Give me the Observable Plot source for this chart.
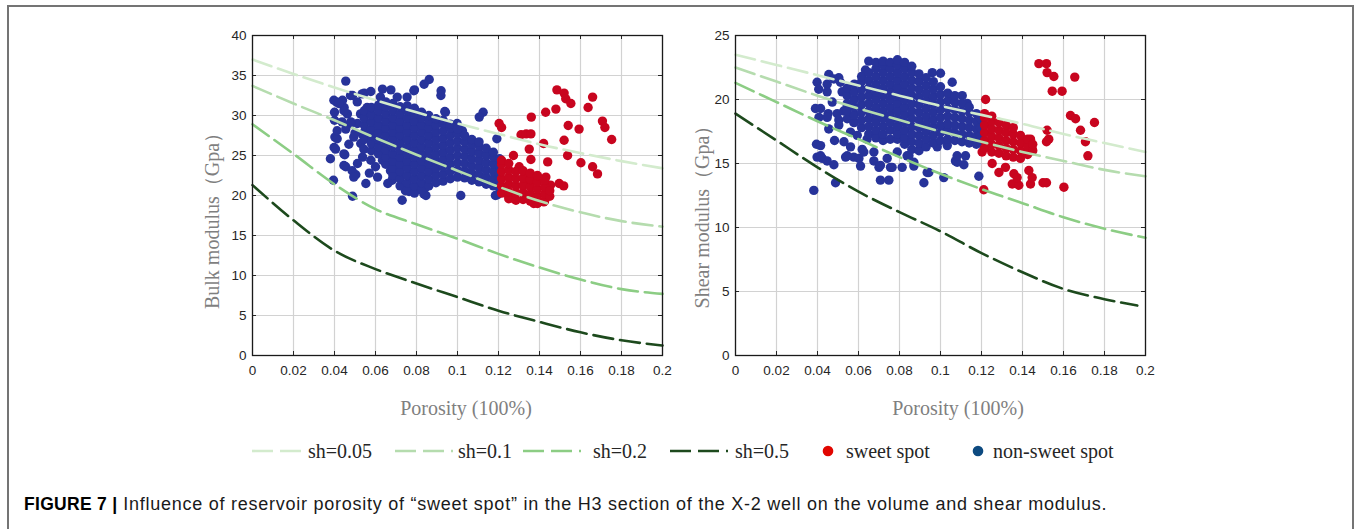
<!DOCTYPE html>
<html><head><meta charset="utf-8">
<script src="https://cdn.jsdelivr.net/npm/d3@7"></script>
<script src="https://cdn.jsdelivr.net/npm/@observablehq/plot@0.6"></script>
<style>
html,body{margin:0;padding:0;background:#fff;width:1356px;height:529px;overflow:hidden;position:relative;}
#frame{position:absolute;left:7px;top:5px;width:1347px;height:600px;border:2px solid #747474;border-bottom:none;box-sizing:border-box;}
.panel{position:absolute;top:20px;}
.ytitle,.xtitle{position:absolute;font-family:"Liberation Serif","Times New Roman",serif;font-size:20px;color:#7f7f7f;white-space:nowrap;line-height:1;}
.ytitle{transform:translate(-50%,-50%) rotate(-90deg);}
.xtitle{transform:translate(-50%,-50%);}
#legend{position:absolute;left:0;top:430px;}
#cap{position:absolute;left:24px;top:495px;font-family:"Liberation Sans",Arial,sans-serif;font-size:18px;letter-spacing:0.75px;color:#1a1a1a;white-space:nowrap;line-height:18px;}
#cap b{color:#000;font-size:17.5px;letter-spacing:0.3px;}
</style></head>
<body>
<div id="frame"></div>
<div id="left" class="panel" style="left:190px"></div>
<div id="right" class="panel" style="left:680px"></div>
<div class="ytitle" style="left:212px;top:216px">Bulk modulus（Gpa）</div>
<div class="ytitle" style="left:702px;top:212px">Shear modulus（Gpa）</div>
<div class="xtitle" style="left:466px;top:408px">Porosity (100%)</div>
<div class="xtitle" style="left:958px;top:408px">Porosity (100%)</div>
<svg id="legend" width="1356" height="40"></svg>
<div id="cap"><b>FIGURE 7 |</b> Influence of reservoir porosity of “sweet spot” in the H3 section of the X-2 well on the volume and shear modulus.</div>
<script>
// ---------- data ----------
const xTicks = [0, 0.02, 0.04, 0.06, 0.08, 0.1, 0.12, 0.14, 0.16, 0.18, 0.2];
const leftYTicks = [0, 5, 10, 15, 20, 25, 30, 35, 40];
const rightYTicks = [0, 5, 10, 15, 20, 25];
const seriesNames = ["sh=0.05", "sh=0.1", "sh=0.2", "sh=0.5"];
const legendLabels = ["sh=0.05", "sh=0.1", "sh=0.2", "sh=0.5", "sweet spot", "non-sweet spot"];

const curveX = [0, 0.02, 0.04, 0.06, 0.08, 0.10, 0.12, 0.14, 0.16, 0.18, 0.20];
const curveXShort = [0, 0.02, 0.04, 0.06, 0.08, 0.10, 0.12, 0.14, 0.16, 0.18, 0.196];

// Bulk modulus curves
const leftSh005 = [37.0, 35.2, 33.5, 31.9, 30.4, 29.0, 27.7, 26.4, 25.3, 24.3, 23.4];
const leftSh01  = [33.7, 31.5, 29.4, 27.2, 25.1, 23.1, 21.1, 19.3, 17.9, 16.8, 16.1];
const leftSh02  = [28.9, 25.2, 21.4, 18.3, 16.4, 14.6, 12.7, 11.0, 9.5, 8.3, 7.7];
const leftSh05  = [21.3, 16.9, 13.1, 10.8, 9.0, 7.3, 5.6, 4.2, 2.9, 1.9, 1.25];
// Shear modulus curves
const rightSh005 = [23.5, 22.7, 21.9, 21.1, 20.3, 19.5, 18.8, 18.1, 17.3, 16.6, 15.9];
const rightSh01  = [22.5, 21.4, 20.3, 19.3, 18.4, 17.5, 16.7, 15.9, 15.2, 14.5, 14.0];
const rightSh02  = [21.3, 19.8, 18.3, 16.9, 15.5, 14.2, 13.0, 11.9, 10.8, 9.9, 9.2];
const rightSh05  = [18.9, 16.8, 14.7, 12.8, 11.2, 9.7, 8.0, 6.5, 5.2, 4.4, 3.9];

// Bulk modulus points: non-sweet spot (porosity, modulus)
const leftBlue = [
[0.0455,34.3],[0.038,24.6],[0.0395,21.9],[0.0488,19.9],[0.0455,23.6],[0.0504,22.6],[0.0553,21.5],[0.045,25.1],[0.0398,26.0],[0.0402,27.3],[0.040,29.4],[0.041,31.7],[0.040,30.4],[0.0634,33.3],[0.0675,33.2],[0.0577,33.0],[0.0545,32.8],[0.0488,32.5],[0.0862,34.5],[0.0837,33.9],[0.079,33.2],[0.092,33.1],[0.0919,32.5],[0.0938,30.5],[0.1125,30.4],[0.1106,29.8],[0.100,28.6],[0.1024,28.1],[0.1016,20.0],[0.1195,20.1],[0.1192,27.1],[0.073,19.4],[0.0846,20.0],[0.0764,20.5],[0.082,21.0],[0.0683,22.0],[0.0634,24.4],[0.0577,24.4],[0.0537,24.8],[0.0512,24.0],[0.0528,26.5],[0.0537,27.6],[0.0512,29.0],[0.0463,30.2],[0.0447,31.0],[0.0439,31.9],[0.048,29.2],[0.066,21.5],[0.0707,22.9],[0.061,22.3],[0.0642,25.2],
[0.0397,31.9],[0.0421,31.5],[0.0478,32.5],[0.0535,32.7],[0.0624,32.3],[0.0706,32.3],[0.0754,32.3],[0.0787,33.1],[0.0941,30.4],[0.0998,29.0],[0.0982,28.3],[0.0446,25.2],[0.0446,23.75],[0.0486,23.1],[0.0494,22.3],[0.0673,23.1],[0.0681,21.9],[0.0746,20.6],[0.0836,20.2],[0.0844,21.0],[0.1185,20.0],
[0.0543,25.8],[0.0494,27.3],[0.0413,27.1],[0.0413,28.1],[0.0405,25.8],[0.0437,29.2],[0.0478,29.0],[0.0527,30.2],[0.0559,31.0],[0.0446,30.6],[0.0511,31.7],[0.0455,28.3],[0.050,27.8],[0.047,26.4],[0.057,22.8],[0.060,23.6],
[0.0545,27.0],[0.0545,27.9],[0.0545,28.8],[0.0545,29.7],[0.0545,30.6],
[0.058,25.6],[0.058,26.5],[0.058,27.4],[0.058,28.3],[0.058,29.2],[0.058,30.1],[0.058,31.0],
[0.0615,25.2],[0.0615,26.1],[0.0615,27.0],[0.0615,27.9],[0.0615,28.8],[0.0615,29.7],[0.0615,30.6],[0.0615,31.3],
[0.065,23.9],[0.065,24.8],[0.065,25.7],[0.065,26.6],[0.065,27.5],[0.065,28.4],[0.065,29.3],[0.065,30.2],[0.065,31.1],[0.065,31.7],
[0.0685,22.5],[0.0685,23.4],[0.0685,24.3],[0.0685,25.2],[0.0685,26.1],[0.0685,27.0],[0.0685,27.9],[0.0685,28.8],[0.0685,29.7],[0.0685,30.6],[0.0685,31.5],
[0.072,21.2],[0.072,22.1],[0.072,23.0],[0.072,23.9],[0.072,24.8],[0.072,25.7],[0.072,26.6],[0.072,27.5],[0.072,28.4],[0.072,29.3],[0.072,30.2],[0.072,31.1],
[0.0755,20.7],[0.0755,21.6],[0.0755,22.5],[0.0755,23.4],[0.0755,24.3],[0.0755,25.2],[0.0755,26.1],[0.0755,27.0],[0.0755,27.9],[0.0755,28.8],[0.0755,29.7],[0.0755,30.6],[0.0755,31.2],
[0.079,20.3],[0.079,21.2],[0.079,22.1],[0.079,23.0],[0.079,23.9],[0.079,24.8],[0.079,25.7],[0.079,26.6],[0.079,27.5],[0.079,28.4],[0.079,29.3],[0.079,30.2],[0.079,30.9],
[0.0825,20.7],[0.0825,21.6],[0.0825,22.5],[0.0825,23.4],[0.0825,24.3],[0.0825,25.2],[0.0825,26.1],[0.0825,27.0],[0.0825,27.9],[0.0825,28.8],[0.0825,29.7],[0.0825,30.4],
[0.086,21.2],[0.086,22.1],[0.086,23.0],[0.086,23.9],[0.086,24.8],[0.086,25.7],[0.086,26.6],[0.086,27.5],[0.086,28.4],[0.086,29.3],[0.086,30.0],
[0.0895,21.6],[0.0895,22.5],[0.0895,23.4],[0.0895,24.3],[0.0895,25.2],[0.0895,26.1],[0.0895,27.0],[0.0895,27.9],[0.0895,28.8],[0.0895,29.6],
[0.093,21.8],[0.093,22.7],[0.093,23.6],[0.093,24.5],[0.093,25.4],[0.093,26.3],[0.093,27.2],[0.093,28.1],[0.093,29.0],[0.093,29.4],
[0.0965,22.1],[0.0965,23.0],[0.0965,23.9],[0.0965,24.8],[0.0965,25.7],[0.0965,26.6],[0.0965,27.5],[0.0965,28.4],[0.0965,28.9],
[0.100,22.3],[0.100,23.2],[0.100,24.1],[0.100,25.0],[0.100,25.9],[0.100,26.8],[0.100,27.7],[0.100,28.3],
[0.1035,22.2],[0.1035,23.1],[0.1035,24.0],[0.1035,24.9],[0.1035,25.8],[0.1035,26.7],[0.1035,27.5],
[0.107,21.9],[0.107,22.8],[0.107,23.7],[0.107,24.6],[0.107,25.5],[0.107,26.4],[0.107,27.0],
[0.1105,21.7],[0.1105,22.6],[0.1105,23.5],[0.1105,24.4],[0.1105,25.3],[0.1105,26.2],[0.1105,26.7],
[0.114,21.4],[0.114,22.3],[0.114,23.2],[0.114,24.1],[0.114,25.0],[0.114,25.9],
[0.1175,21.2],[0.1175,22.1],[0.1175,23.0],[0.1175,23.9],[0.1175,24.8],[0.1175,25.4],
[0.1205,21.0],[0.1205,21.9],[0.1205,22.8],[0.1205,23.7],[0.1205,24.6]
];
// Bulk modulus points: sweet spot
const leftRed = [
[0.1203,29.0],[0.1215,28.5],[0.131,27.6],[0.1335,27.7],[0.1358,27.7],[0.136,29.8],[0.143,30.4],[0.135,25.8],[0.142,26.5],[0.1485,33.2],[0.152,32.8],[0.1528,32.1],[0.1553,31.5],[0.148,30.8],[0.154,28.75],[0.1593,28.3],[0.1659,32.3],[0.1637,31.0],[0.1707,29.3],[0.1719,28.5],[0.1752,27.0],[0.152,26.9],[0.1537,25.0],[0.1602,24.1],[0.1659,23.6],[0.1683,22.7],[0.1496,21.5],[0.1518,21.2],[0.144,24.2],[0.1273,25.0],[0.1301,23.6],[0.1358,24.5],[0.1431,22.3],[0.1325,22.1],[0.1421,19.2],[0.1372,19.0],[0.1275,19.6],[0.1242,20.2],[0.1454,21.3],[0.1356,21.5],
[0.1215,20.3],[0.1215,21.2],[0.1215,22.1],[0.1215,23.0],[0.1215,23.9],[0.1215,24.4],
[0.125,19.6],[0.125,20.5],[0.125,21.4],[0.125,22.3],[0.125,23.2],[0.125,24.0],
[0.1285,19.4],[0.1285,20.3],[0.1285,21.2],[0.1285,22.1],[0.1285,23.0],
[0.132,19.5],[0.132,20.4],[0.132,21.3],[0.132,22.2],[0.132,23.1],
[0.1355,19.3],[0.1355,20.2],[0.1355,21.1],[0.1355,22.0],[0.1355,22.8],
[0.139,19.0],[0.139,19.9],[0.139,20.8],[0.139,21.7],[0.139,22.5],
[0.1425,19.3],[0.1425,20.2],[0.1425,21.1],[0.1425,21.9],
[0.145,19.9],[0.145,20.6]
];
// Shear modulus points: non-sweet spot
const rightBlue = [
[0.0382,12.9],[0.039,19.3],[0.0398,21.35],[0.0407,18.6],[0.0395,16.5],[0.0415,16.4],[0.0398,15.5],[0.0423,15.4],[0.0447,15.2],[0.048,14.9],[0.0483,16.8],[0.0488,13.5],[0.0455,21.95],[0.0447,21.2],[0.0504,21.7],[0.0452,18.9],[0.0455,17.7],[0.0504,18.4],[0.0528,19.1],[0.0537,15.5],[0.0561,16.3],[0.0577,15.5],[0.0618,16.1],[0.061,14.8],[0.0634,22.3],[0.065,23.0],[0.0675,15.2],[0.070,14.7],[0.0707,13.7],[0.0748,13.7],[0.074,15.4],[0.0764,14.7],[0.0813,14.7],[0.0789,15.9],[0.0846,15.6],[0.087,14.8],[0.0919,13.5],[0.0943,14.3],[0.1016,13.9],[0.096,22.1],[0.100,22.05],[0.1057,21.35],[0.1049,20.2],[0.1106,20.3],[0.113,19.7],[0.1073,15.2],[0.1114,14.9],[0.1122,15.6],[0.1187,14.0],[0.1033,17.7],[0.0984,16.3],[0.0902,16.3],
[0.0406,20.8],[0.0447,20.6],[0.048,21.6],[0.0512,21.35],[0.052,20.6],[0.0472,19.8],[0.0415,19.3],[0.0447,18.6],[0.0496,18.9],[0.0545,19.5],[0.0504,18.0],[0.0561,17.45],[0.0529,16.7],[0.0415,15.6],[0.0545,15.6],[0.0602,15.4],[0.0626,15.9],[0.0675,15.9],[0.0707,14.85],[0.0756,14.7],[0.0837,15.6],[0.087,15.1],[0.0935,14.3],[0.1081,15.1],[0.1081,15.6],[0.1033,16.4],[0.0594,17.2],[0.0642,16.9],[0.0691,17.2],[0.0577,18.2],
[0.0545,18.5],[0.0545,19.1],[0.0545,19.7],[0.0545,20.3],[0.0545,20.9],
[0.058,18.2],[0.058,18.8],[0.058,19.4],[0.058,20.0],[0.058,20.6],[0.058,21.2],
[0.0615,17.8],[0.0615,18.4],[0.0615,19.0],[0.0615,19.6],[0.0615,20.2],[0.0615,20.8],[0.0615,21.4],[0.0615,21.8],
[0.065,17.3],[0.065,17.9],[0.065,18.5],[0.065,19.1],[0.065,19.7],[0.065,20.3],[0.065,20.9],[0.065,21.5],[0.065,22.1],
[0.0685,17.0],[0.0685,17.6],[0.0685,18.2],[0.0685,18.8],[0.0685,19.4],[0.0685,20.0],[0.0685,20.6],[0.0685,21.2],[0.0685,21.8],[0.0685,22.4],[0.0685,22.9],
[0.072,16.8],[0.072,17.3],[0.072,17.9],[0.072,18.5],[0.072,19.1],[0.072,19.7],[0.072,20.3],[0.072,20.9],[0.072,21.5],[0.072,22.1],[0.072,22.7],[0.072,23.0],
[0.0755,16.9],[0.0755,17.6],[0.0755,18.2],[0.0755,18.8],[0.0755,19.4],[0.0755,20.0],[0.0755,20.6],[0.0755,21.2],[0.0755,21.8],[0.0755,22.4],[0.0755,22.9],
[0.079,16.9],[0.079,17.3],[0.079,17.9],[0.079,18.5],[0.079,19.1],[0.079,19.7],[0.079,20.3],[0.079,20.9],[0.079,21.5],[0.079,22.1],[0.079,22.7],[0.079,23.1],
[0.0825,16.5],[0.0825,17.0],[0.0825,17.6],[0.0825,18.2],[0.0825,18.8],[0.0825,19.4],[0.0825,20.0],[0.0825,20.6],[0.0825,21.2],[0.0825,21.8],[0.0825,22.4],[0.0825,22.9],
[0.086,16.1],[0.086,16.7],[0.086,17.3],[0.086,17.9],[0.086,18.5],[0.086,19.1],[0.086,19.7],[0.086,20.3],[0.086,20.9],[0.086,21.5],[0.086,22.1],[0.086,22.6],
[0.0895,16.0],[0.0895,16.6],[0.0895,17.2],[0.0895,17.8],[0.0895,18.4],[0.0895,19.0],[0.0895,19.6],[0.0895,20.2],[0.0895,20.8],[0.0895,21.4],[0.0895,22.0],
[0.093,16.3],[0.093,16.9],[0.093,17.5],[0.093,18.1],[0.093,18.7],[0.093,19.3],[0.093,19.9],[0.093,20.5],[0.093,21.1],[0.093,21.7],
[0.0965,16.6],[0.0965,17.2],[0.0965,17.8],[0.0965,18.4],[0.0965,19.0],[0.0965,19.6],[0.0965,20.2],[0.0965,20.8],[0.0965,21.4],
[0.100,16.8],[0.100,17.4],[0.100,18.0],[0.100,18.6],[0.100,19.2],[0.100,19.8],[0.100,20.4],[0.100,21.0],
[0.1035,16.9],[0.1035,17.5],[0.1035,18.1],[0.1035,18.7],[0.1035,19.3],[0.1035,19.9],[0.1035,20.5],
[0.107,16.8],[0.107,17.4],[0.107,18.0],[0.107,18.6],[0.107,19.2],[0.107,19.8],[0.107,20.3],
[0.1105,16.7],[0.1105,17.3],[0.1105,17.9],[0.1105,18.5],[0.1105,19.1],[0.1105,19.7],
[0.114,16.6],[0.114,17.2],[0.114,17.8],[0.114,18.4],[0.114,19.0],[0.114,19.4],
[0.1175,16.5],[0.1175,17.1],[0.1175,17.7],[0.1175,18.3],[0.1175,18.9],
[0.1195,16.6],[0.1195,17.2],[0.1195,17.8],[0.1195,18.5]
];
// Shear modulus points: sweet spot
const rightRed = [
[0.122,20.0],[0.1211,12.95],[0.1203,15.9],[0.1252,15.0],[0.1285,14.3],[0.1317,14.7],[0.1358,14.2],[0.135,13.4],[0.1382,13.3],[0.1374,13.9],[0.1431,14.45],[0.1439,13.4],[0.1447,13.9],[0.150,13.5],[0.1517,13.5],[0.1602,13.15],[0.148,22.8],[0.1517,22.8],[0.152,22.1],[0.1553,21.8],[0.1545,20.65],[0.1593,20.65],[0.1655,21.75],[0.1634,18.75],[0.1659,18.5],[0.1683,17.6],[0.1707,16.7],[0.1719,15.6],[0.1751,18.2],[0.152,17.6],[0.1528,16.9],[0.1517,16.7],[0.1439,16.9],[0.1447,16.15],
[0.1215,16.2],[0.1215,16.8],[0.1215,17.4],[0.1215,18.0],[0.1215,18.6],[0.1215,18.9],
[0.125,15.9],[0.125,16.5],[0.125,17.1],[0.125,17.7],[0.125,18.3],[0.125,18.7],
[0.1285,15.8],[0.1285,16.4],[0.1285,17.0],[0.1285,17.6],[0.1285,18.2],
[0.132,15.6],[0.132,16.2],[0.132,16.8],[0.132,17.4],[0.132,18.0],
[0.1355,15.5],[0.1355,16.1],[0.1355,16.7],[0.1355,17.3],[0.1355,17.8],
[0.139,15.4],[0.139,16.0],[0.139,16.6],[0.139,17.2],
[0.1425,15.7],[0.1425,16.3],[0.1425,16.9],
[0.145,16.0],[0.145,16.5]
];

// ---------- styling ----------
const lineColors = ["#d3ebcd", "#b5dcae", "#8ccd84", "#1d4a1d"];
const blueColor = "#27339a";
const redColor = "#c8051f";
const dash = "20,7";

function buildCurves(xsList, ysList) {
  const rows = [];
  ysList.forEach((ys, i) => ys.forEach((y, j) => rows.push({series: seriesNames[i], x: xsList[i][j], y})));
  return rows;
}

function panel(blue, red, curves, yTicks, yMax, width, mLeft) {
  const H = 400, mTop = 15, mBottom = 65, plotH = H - mTop - mBottom;
  const tickColor = "#262626";
  return Plot.plot({
    width, height: H,
    marginLeft: mLeft, marginRight: width - mLeft - 410, marginTop: mTop, marginBottom: mBottom,
    x: {domain: [0, 0.2]},
    y: {domain: [0, yMax]},
    style: {background: "transparent", fontFamily: "'Liberation Sans', Arial, sans-serif", fontSize: "13.5px", color: "#262626", overflow: "visible"},
    marks: [
      Plot.gridX(xTicks, {stroke: "#d2d2d2", strokeOpacity: 1, strokeWidth: 1.2}),
      Plot.gridY(yTicks, {stroke: "#d2d2d2", strokeOpacity: 1, strokeWidth: 1.2}),
      Plot.dot(blue, {x: d => d[0], y: d => d[1], r: 4.7, fill: blueColor}),
      Plot.dot(red, {x: d => d[0], y: d => d[1], r: 4.7, fill: redColor}),
      ...seriesNames.map((s, i) => Plot.line(curves.filter(d => d.series === s), {
        x: "x", y: "y", curve: "monotone-x", stroke: lineColors[i], strokeWidth: 2.6, strokeDasharray: dash
      })),
      Plot.tickX(xTicks, {x: d => d, insetTop: plotH - 4, stroke: tickColor}),
      Plot.tickX(xTicks, {x: d => d, insetBottom: plotH - 4, stroke: tickColor}),
      Plot.tickY(yTicks, {y: d => d, insetRight: 406, stroke: tickColor}),
      Plot.tickY(yTicks, {y: d => d, insetLeft: 406, stroke: tickColor}),
      Plot.frame({stroke: "#1a1a1a", strokeWidth: 1.3}),
      Plot.axisX(xTicks, {tickSize: 0, tickPadding: 10, tickFormat: d => String(d), label: null, fontSize: 13.5, fill: "#262626"}),
      Plot.axisY(yTicks, {tickSize: 0, tickPadding: 6, label: null, fontSize: 13.5, fill: "#262626"})
    ]
  });
}

const leftCurves = buildCurves([curveX, curveX, curveX, curveX], [leftSh005, leftSh01, leftSh02, leftSh05]);
const rightCurves = buildCurves([curveX, curveX, curveX, curveXShort], [rightSh005, rightSh01, rightSh02, rightSh05]);

document.getElementById("left").append(panel(leftBlue, leftRed, leftCurves, leftYTicks, 40, 488, 62));
document.getElementById("right").append(panel(rightBlue, rightRed, rightCurves, rightYTicks, 25, 500, 55));

// ---------- legend ----------
const lg = d3.select("#legend");
const lineItems = [
  {x0: 252, len: 50, tx: 308},
  {x0: 395, len: 58, tx: 458},
  {x0: 523, len: 58, tx: 593},
  {x0: 670, len: 58, tx: 735}
];
const cy = 21;
lineItems.forEach((it, i) => {
  lg.append("line").attr("x1", it.x0).attr("x2", it.x0 + it.len).attr("y1", cy).attr("y2", cy)
    .attr("stroke", lineColors[i]).attr("stroke-width", 2.6).attr("stroke-dasharray", "21,7");
  lg.append("text").attr("x", it.tx).attr("y", cy).attr("dy", "0.35em")
    .attr("font-family", "'Liberation Serif', 'Times New Roman', serif").attr("font-size", 20).attr("fill", "#262626")
    .text(legendLabels[i]);
});
const dotItems = [
  {cx: 828, tx: 846, color: "#e10600"},
  {cx: 978, tx: 993, color: "#0d4a80"}
];
dotItems.forEach((it, k) => {
  lg.append("circle").attr("cx", it.cx).attr("cy", cy).attr("r", 5.3).attr("fill", it.color);
  lg.append("text").attr("x", it.tx).attr("y", cy).attr("dy", "0.35em")
    .attr("font-family", "'Liberation Serif', 'Times New Roman', serif").attr("font-size", 20).attr("fill", "#262626")
    .text(legendLabels[4 + k]);
});
</script>
</body></html>
